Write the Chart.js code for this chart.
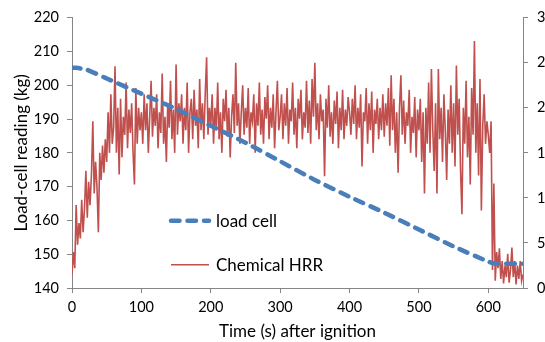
<!DOCTYPE html>
<html>
<head>
<meta charset="utf-8">
<script src="https://cdn.jsdelivr.net/npm/chart.js@4"></script>
<style>
  body { margin: 0; background: #fff; }
  #wrap { width: 545px; height: 342px; overflow: hidden; }
</style>
</head>
<body>
<div id="wrap"><canvas id="myChart" width="600" height="342"></canvas></div>
<script>
// load cell (kg)
const loadTime = [0, 20, 50, 100, 150, 200, 250, 300, 350, 400, 450, 500, 550, 600, 610, 650];
const loadKg = [205.3, 204.7, 202, 197.5, 193, 188, 183, 177.5, 172, 167, 162.3, 157.3, 152.3, 147.8, 147.2, 147.2];

// chemical HRR (kW, right axis), one reading every 2 s from t = 0
const hrrStep = 2;
const hrrValues = [
    15, 40, 22, 92, 48, 72, 55, 98, 62, 88, 130, 78, 118, 92, 125, 185, 105, 140, 112, 62, 150, 120, 158, 128, 165,
    140, 195, 150, 215, 160, 178, 246, 150, 200, 126, 210, 145, 190, 170, 228, 155, 198, 172, 205, 150, 115, 222, 160, 200, 175,
    195, 160, 215, 175, 205, 150, 190, 230, 168, 200, 180, 215, 155, 195, 172, 238, 160, 190, 140, 205, 178, 230, 165, 198, 150,
    248, 170, 205, 185, 215, 160, 200, 175, 228, 150, 195, 210, 165, 220, 180, 198, 155, 232, 175, 205, 165, 215, 256, 170, 200,
    180, 215, 160, 200, 175, 228, 165, 195, 150, 210, 185, 220, 168, 200, 145, 190, 215, 172, 250, 180, 205, 160, 195, 225, 170,
    200, 178, 222, 160, 195, 185, 215, 150, 205, 180, 228, 170, 198, 160, 212, 188, 225, 165, 200, 178, 215, 155, 195, 230, 175,
    190, 215, 165, 205, 180, 222, 160, 198, 185, 228, 170, 200, 155, 210, 188, 220, 165, 195, 178, 230, 172, 208, 160, 232, 190,
    250, 175, 205, 165, 215, 185, 198, 124, 210, 178, 225, 168, 195, 160, 208, 182, 218, 155, 200, 175, 220, 165, 198, 180, 212,
    195, 170, 210, 182, 225, 165, 200, 178, 215, 135, 195, 185, 222, 160, 205, 175, 218, 150, 198, 182, 210, 165, 200, 175, 215,
    168, 205, 180, 222, 158, 236, 175, 210, 150, 195, 128, 200, 236, 170, 208, 160, 195, 180, 220, 150, 190, 172, 212, 145, 198,
    175, 210, 140, 195, 105, 200, 160, 228, 150, 243, 175, 130, 205, 105, 243, 165, 200, 140, 215, 175, 120, 198, 160, 225, 150,
    205, 135, 247, 170, 210, 130, 82, 200, 160, 230, 145, 190, 115, 222, 170, 274, 150, 205, 125, 232, 86, 180, 215, 160, 185,
    170, 150, 185, 20, 116, 8, 40, 22, 44, 10, 30, 5, 25, 12, 38, 6, 20, 45, 12, 30, 4, 25, 10, 30, 8,
    15
];

const xTitle = 'Time (s) after ignition';
const yTitle = 'Load-cell reading (kg)';

const axisGrey = '#868686';
const fontName = 'Lato, "Open Sans", sans-serif';

const loadData = loadTime.map((t, i) => ({ x: t, y: loadKg[i] }));
const hrrData = hrrValues.map((v, i) => ({ x: i * hrrStep, y: v }));

// legend sitting inside the plot, like the original
const innerLegend = {
    id: 'innerLegend',
    afterDatasetsDraw(chart) {
        const { ctx, chartArea } = chart;
        const x0 = chartArea.left + 97;
        const rows = [chartArea.top + 203, chartArea.top + 247];
        chart.data.datasets.forEach((ds, i) => {
            const y = rows[i];
            ctx.save();
            ctx.strokeStyle = ds.borderColor;
            ctx.lineWidth = ds.borderWidth;
            ctx.lineCap = ds.borderCapStyle || 'butt';
            ctx.setLineDash(ds.borderDash || []);
            ctx.beginPath();
            ctx.moveTo(x0 + 2, y);
            ctx.lineTo(x0 + 40, y);
            ctx.stroke();
            ctx.setLineDash([]);
            ctx.fillStyle = '#000';
            ctx.font = '17px ' + fontName;
            ctx.textBaseline = 'middle';
            ctx.fillText(ds.label, x0 + 47, y + 1);
            ctx.restore();
        });
    }
};

const ctx = document.getElementById('myChart').getContext('2d');
new Chart(ctx, {
    type: 'line',
    data: {
        datasets: [{
            label: 'load cell',
            data: loadData,
            yAxisID: 'y',
            borderColor: '#4a7ebb',
            borderWidth: 4.5,
            borderDash: [8.5, 8],
            borderCapStyle: 'round',
            pointRadius: 0,
            tension: 0.2
        }, {
            label: 'Chemical HRR',
            data: hrrData,
            yAxisID: 'y2',
            borderColor: '#c0504d',
            borderWidth: 1.6,
            pointRadius: 0,
            tension: 0
        }]
    },
    options: {
        responsive: false,
        animation: false,
        layout: { padding: { top: 15, left: 0, right: 0, bottom: 0 } },
        plugins: { legend: { display: false }, tooltip: { enabled: false } },
        scales: {
            x: {
                type: 'linear',
                min: 0,
                max: 650,
                afterFit: s => { s.height = 54; },
                ticks: { stepSize: 100, includeBounds: false, color: '#000', padding: 6, font: { family: fontName, size: 14.5 } },
                grid: { display: true, drawOnChartArea: false, tickLength: 5, color: axisGrey },
                border: { color: axisGrey, width: 1 },
                title: { display: true, text: xTitle, color: '#000', padding: { top: 0, bottom: 0 }, font: { family: fontName, size: 17 } }
            },
            y: {
                position: 'left',
                min: 140,
                max: 220,
                afterFit: s => { s.width = 72; },
                ticks: { stepSize: 10, color: '#000', padding: 8, font: { family: fontName, size: 14.5 } },
                grid: { display: true, drawOnChartArea: false, tickLength: 5, color: axisGrey },
                border: { color: axisGrey, width: 1 },
                title: { display: true, text: yTitle, color: '#000', padding: { top: 11, bottom: 0 }, font: { family: fontName, size: 17 } }
            },
            y2: {
                position: 'right',
                min: 0,
                max: 300,
                afterFit: s => { s.width = 77; },
                ticks: { stepSize: 50, color: '#000', padding: 9, font: { family: fontName, size: 14.5 } },
                grid: { display: true, drawOnChartArea: false, tickLength: 5, color: axisGrey },
                border: { color: axisGrey, width: 1 }
            }
        }
    },
    plugins: [innerLegend]
});
</script>
</body>
</html>
